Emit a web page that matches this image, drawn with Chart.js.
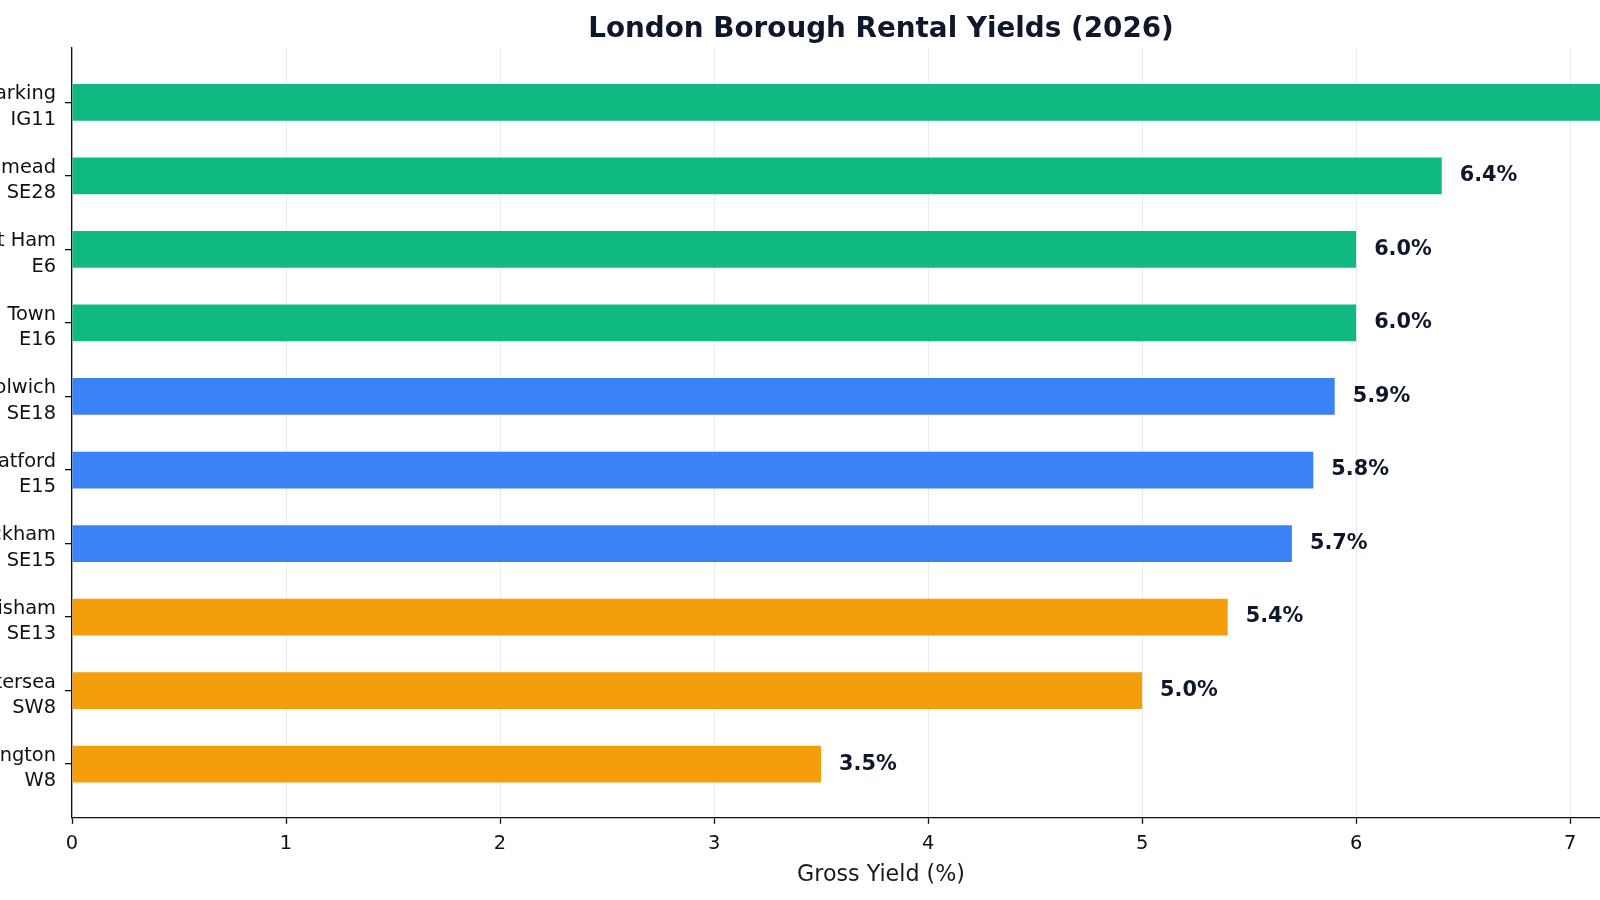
<!DOCTYPE html>
<html>
<head>
<meta charset="utf-8">
<title>London Borough Rental Yields (2026)</title>
<script src="https://cdn.jsdelivr.net/npm/chart.js@4.4.1/dist/chart.umd.min.js"></script>
<style>
  html, body { margin: 0; padding: 0; background: #fff; overflow: hidden; }
  body { width: 1600px; height: 900px; position: relative; }
  #wrap { position: absolute; left: -88px; top: 0; width: 1938px; height: 900px; }
</style>
</head>
<body>
<div id="wrap"><canvas id="yieldChart"></canvas></div>
<script>
// data
const areas = ["Barking", "Thamesmead", "East Ham", "Canning Town", "Woolwich", "Stratford", "Peckham", "Lewisham", "Battersea", "Kensington"];
const postcodes = ["IG11", "SE28", "E6", "E16", "SE18", "E15", "SE15", "SE13", "SW8", "W8"];
const yields = [7.2, 6.4, 6.0, 6.0, 5.9, 5.8, 5.7, 5.4, 5.0, 3.5];
const tiers = ["high", "high", "high", "high", "mid", "mid", "mid", "low", "low", "low"];
const xTicks = [0, 1, 2, 3, 4, 5, 6, 7];

const tierColors = { high: "#10b981", mid: "#3b82f6", low: "#f59e0b" };
const FONT = "'DejaVu Sans', 'Liberation Sans', sans-serif";

// bold value text just past the end of each bar
const valueLabels = {
  id: "valueLabels",
  afterDatasetsDraw(chart) {
    const ctx = chart.ctx;
    const meta = chart.getDatasetMeta(0);
    ctx.save();
    ctx.font = "bold 20.8px " + FONT;
    ctx.fillStyle = "#0f172a";
    ctx.textAlign = "left";
    ctx.textBaseline = "middle";
    meta.data.forEach((bar, i) => {
      ctx.fillText(yields[i].toFixed(1) + "%", bar.x + 18, bar.y);
    });
    ctx.restore();
  }
};

const ctx = document.getElementById("yieldChart").getContext("2d");

new Chart(ctx, {
  type: "bar",
  data: {
    datasets: [
      {
        label: "Gross Yield",
        data: yields.map((v, i) => ({ x: v, y: i })),
        backgroundColor: tiers.map(t => tierColors[t]),
        borderWidth: 0,
        barPercentage: 0.5,
        categoryPercentage: 1,
      },
    ],
  },
  options: {
    indexAxis: "y",
    responsive: true,
    maintainAspectRatio: false,
    animation: false,
    layout: { padding: 0 },
    plugins: {
      legend: { display: false },
      tooltip: { enabled: false },
      title: {
        display: true,
        text: "London Borough Rental Yields (2026)",
        color: "#0f172a",
        font: { family: FONT, size: 27.8, weight: "bold", lineHeight: 1.2 },
        padding: { top: 12.8, bottom: 1.8 },
      },
    },
    scales: {
      x: {
        type: "linear",
        min: 0,
        max: 7.56,
        afterBuildTicks: (scale) => {
          scale.ticks = xTicks.map(v => ({ value: v }));
        },
        ticks: {
          color: "#111",
          font: { family: FONT, size: 19.4, lineHeight: 1.2 },
          padding: 9,
          maxRotation: 0,
        },
        grid: {
          color: "rgba(0,0,0,0.08)",
          tickColor: "#111",
          tickWidth: 1.3,
          tickLength: 6,
          lineWidth: 1,
        },
        border: { display: true, color: "#111", width: 1.3 },
        title: {
          display: true,
          text: "Gross Yield (%)",
          color: "#1a1a1a",
          font: { family: FONT, size: 22.2, lineHeight: 0.92 },
          padding: { top: 0, bottom: 14.5 },
        },
      },
      y: {
        type: "linear",
        reverse: true,
        offset: false,
        min: -0.74,
        max: 9.73,
        afterBuildTicks: (scale) => {
          scale.ticks = postcodes.map((_, i) => ({ value: i }));
        },
        afterFit: (scale) => {
          scale.width = 160;
        },
        ticks: {
          color: "#111",
          font: { family: FONT, size: 19.4, lineHeight: 1.3 },
          padding: 9,
          labelOffset: 4.5,
          callback: (value) => [areas[value], postcodes[value]],
        },
        grid: {
          offset: false,
          drawOnChartArea: false,
          color: "#111",
          lineWidth: 1.3,
          tickLength: 7,
        },
        border: { display: true, color: "#111", width: 1.3 },
      },
      // empty right gutter so the title sits over the plot centre
      y2: {
        type: "linear",
        position: "right",
        ticks: { display: false },
        grid: { display: false },
        border: { display: false },
        afterFit: (scale) => {
          scale.width = 160;
        },
      },
    },
  },
  plugins: [valueLabels],
});
</script>
</body>
</html>
